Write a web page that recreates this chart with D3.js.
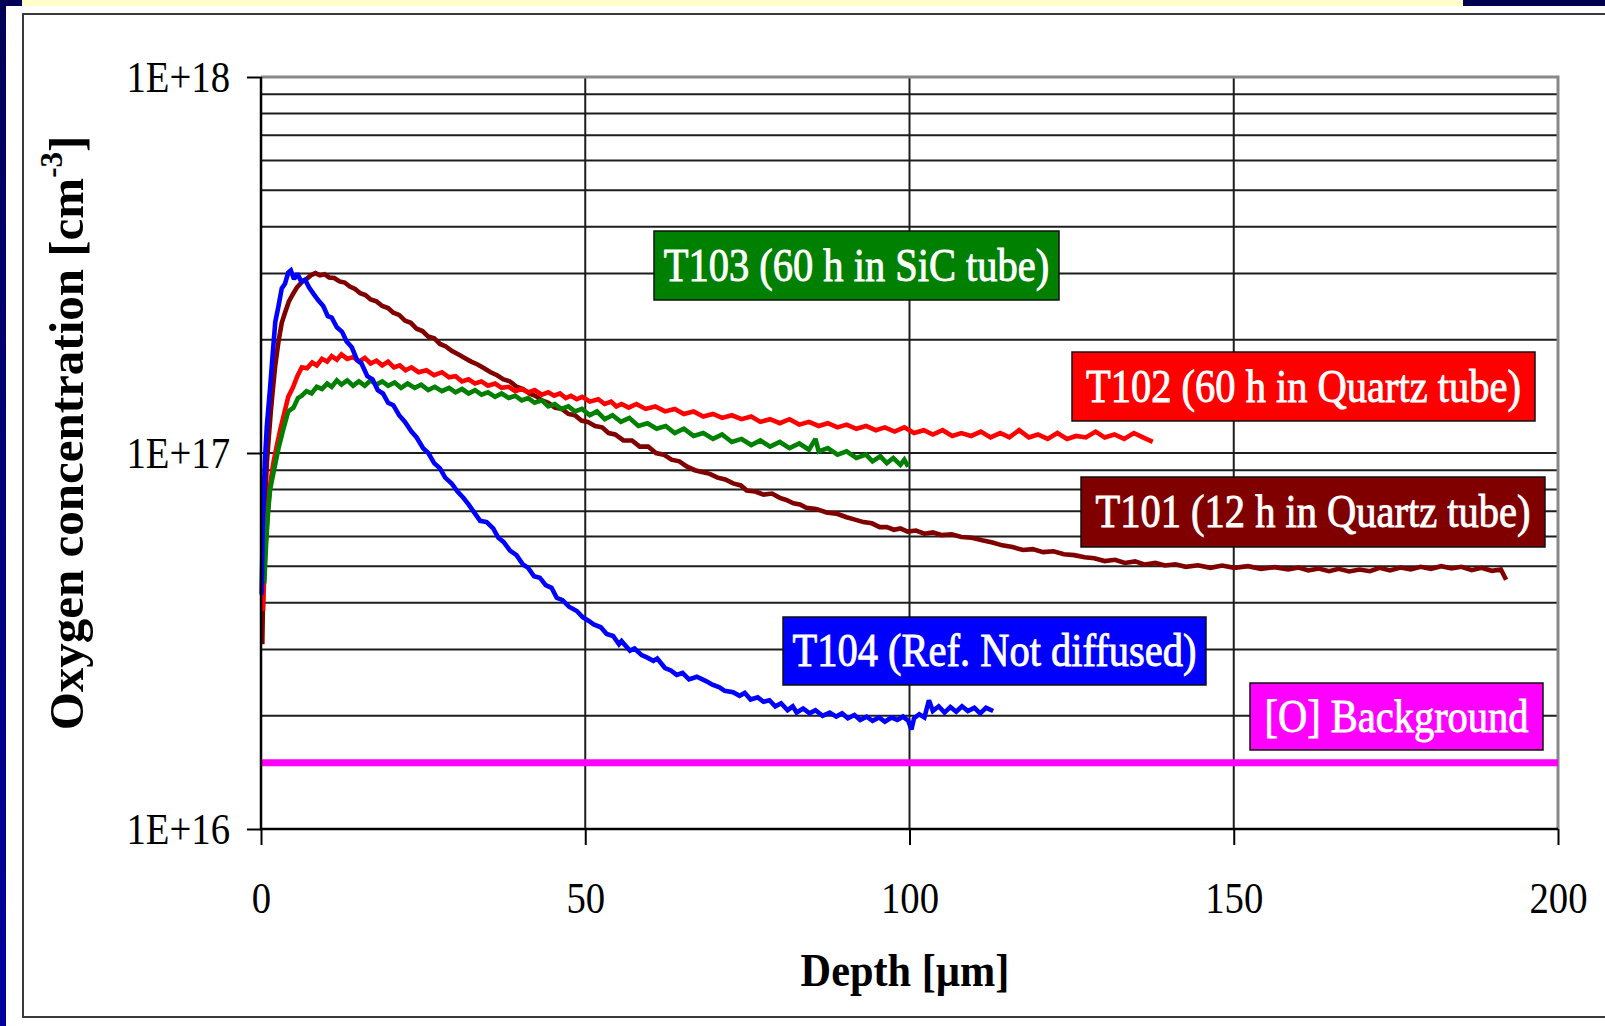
<!DOCTYPE html>
<html>
<head>
<meta charset="utf-8">
<script src="https://cdn.jsdelivr.net/npm/d3@7"></script>
<style>
  body { margin: 0; background: #fff; }
  svg { display: block; font-family: "Liberation Serif", "Times New Roman", serif; }
</style>
</head>
<body>
<svg id="chart" width="1605" height="1026"></svg>
<script>
// depth [µm], oxygen concentration [1E16 cm^-3]
const T101 = [[0.2,3.1],[0.3,4.0],[0.4,5.0],[0.6,7.2],[0.9,9.4],[1.2,11.0],[1.5,12.8],[1.8,14.6],[2.2,17.1],[2.7,19.8],[3.2,22.2],[3.7,23.6],[4.3,25.3],[4.9,26.4],[5.5,27.5],[6.3,28.5],[7.1,29.1],[7.7,29.7],[8.4,30.1],[9.1,29.7],[9.8,29.9],[10.5,29.3],[11.3,29.2],[12.1,28.6],[12.9,28.4],[13.7,27.7],[14.5,27.3],[15.3,26.6],[16.1,26.3],[16.9,25.6],[17.8,25.3],[18.7,24.6],[19.6,24.3],[20.4,23.6],[21.3,23.3],[22.2,22.5],[23.1,22.2],[24.0,21.4],[24.9,21.1],[25.8,20.4],[26.7,20.2],[27.6,19.5],[28.5,19.2],[29.4,18.7],[30.4,18.3],[31.4,17.9],[32.4,17.5],[33.4,17.2],[34.4,16.8],[35.4,16.4],[36.4,16.1],[37.4,15.7],[38.4,15.5],[39.4,15.0],[40.4,14.8],[41.4,14.4],[42.3,14.2],[43.3,13.8],[44.3,13.6],[45.3,13.2],[46.4,13.1],[47.4,12.7],[48.4,12.6],[49.4,12.2],[50.4,12.1],[51.5,11.8],[52.6,11.7],[53.6,11.3],[54.6,11.2],[55.9,10.8],[57.2,10.8],[58.4,10.4],[59.7,10.4],[60.9,10.0],[62.1,9.9],[63.3,9.6],[64.5,9.5],[65.7,9.2],[66.9,9.0],[68.0,8.9],[69.2,8.8],[70.4,8.6],[71.6,8.5],[72.8,8.3],[74.0,8.2],[74.9,7.95],[76.2,7.9],[77.5,7.75],[78.8,7.8],[80.0,7.6],[81.0,7.5],[82.1,7.35],[83.1,7.3],[84.1,7.15],[85.6,7.1],[87.2,6.95],[88.7,6.9],[90.3,6.75],[91.6,6.65],[92.9,6.55],[94.2,6.5],[95.4,6.35],[96.5,6.35],[97.6,6.25],[98.6,6.3],[99.7,6.18],[101.0,6.22],[102.3,6.1],[103.6,6.15],[104.9,6.05],[106.5,6.08],[108.0,5.98],[109.6,5.95],[111.2,5.86],[112.8,5.78],[114.3,5.68],[115.9,5.62],[117.5,5.52],[119.0,5.55],[120.6,5.45],[122.2,5.48],[123.8,5.38],[125.4,5.35],[127.0,5.28],[128.5,5.25],[130.1,5.16],[131.7,5.2],[133.2,5.1],[134.8,5.15],[136.3,5.05],[137.9,5.1],[139.4,5.02],[141.0,5.06],[142.6,4.98],[144.5,5.03],[146.4,4.95],[148.2,5.02],[150.1,4.95],[152.2,5.0],[154.2,4.92],[156.3,4.97],[158.4,4.9],[160.0,4.96],[161.5,4.87],[163.1,4.93],[164.7,4.85],[166.2,4.92],[167.8,4.84],[169.4,4.9],[171.0,4.85],[172.5,4.95],[174.1,4.87],[175.7,4.96],[177.3,4.9],[178.8,4.98],[180.4,4.92],[182.0,5.0],[183.6,4.93],[185.1,4.98],[186.7,4.88],[188.2,4.95],[189.8,4.86],[191.2,4.9],[192.0,4.6]];

const T102 = [[0.3,3.8],[0.6,5.3],[1.0,6.8],[1.4,8.2],[1.9,9.4],[2.4,10.4],[3.0,11.6],[3.6,12.8],[4.2,14.1],[4.9,14.9],[5.6,16.0],[6.3,16.9],[7.1,16.8],[7.9,17.4],[8.6,17.1],[9.4,17.8],[10.2,17.5],[10.9,18.1],[11.7,17.7],[12.4,18.3],[13.3,17.8],[14.2,18.0],[15.1,17.5],[16.0,17.9],[16.9,17.3],[17.8,17.6],[18.7,17.1],[19.6,17.5],[20.5,16.9],[21.4,17.1],[22.3,16.6],[23.2,16.9],[24.3,16.4],[25.5,16.6],[26.7,16.1],[27.9,16.4],[29.0,15.9],[30.0,16.0],[31.0,15.5],[32.0,15.7],[33.0,15.3],[34.0,15.5],[35.0,15.1],[36.1,15.3],[37.1,14.9],[38.2,15.0],[39.2,14.6],[40.2,14.8],[41.2,14.5],[42.2,14.7],[43.3,14.3],[44.3,14.5],[45.2,14.2],[46.1,14.4],[47.0,14.0],[47.8,14.2],[48.7,13.9],[49.5,14.1],[50.7,13.7],[52.0,13.9],[53.0,13.5],[54.0,13.7],[54.8,13.3],[55.6,13.5],[56.7,13.2],[57.9,13.5],[59.3,13.1],[60.8,13.3],[62.3,12.9],[63.8,13.1],[65.2,12.7],[66.7,12.9],[68.2,12.5],[69.7,12.7],[71.1,12.4],[72.6,12.6],[74.1,12.3],[75.6,12.5],[77.0,12.1],[78.5,12.3],[80.0,12.0],[81.5,12.3],[83.0,11.9],[84.5,12.1],[86.0,11.8],[87.4,12.0],[88.9,11.7],[90.3,11.9],[91.8,11.6],[93.3,11.8],[94.8,11.5],[96.2,11.7],[97.7,11.4],[99.2,11.7],[100.7,11.3],[102.2,11.5],[103.6,11.2],[105.1,11.5],[106.6,11.1],[108.0,11.3],[109.5,11.1],[111.0,11.4],[112.5,11.0],[114.0,11.3],[115.4,11.0],[116.9,11.5],[118.4,11.0],[119.8,11.2],[121.3,10.9],[122.8,11.3],[124.3,10.9],[125.7,11.1],[127.2,11.0],[128.7,11.4],[130.1,11.0],[131.6,11.2],[133.1,10.9],[134.6,11.3],[136.0,11.0],[137.5,10.7]];

const T103 = [[0.5,4.5],[0.8,5.8],[1.1,7.0],[1.4,8.0],[2.0,9.0],[2.7,10.3],[3.4,11.5],[4.2,12.9],[5.0,13.2],[5.7,14.0],[6.3,14.2],[7.0,14.6],[7.8,14.4],[8.6,15.0],[9.4,14.8],[10.2,15.3],[10.9,15.0],[11.7,15.6],[12.4,15.2],[13.3,15.6],[14.2,15.1],[15.1,15.5],[16.0,15.1],[16.9,15.6],[17.8,15.2],[18.7,15.5],[19.6,15.1],[20.6,15.4],[21.6,14.9],[22.6,15.3],[23.7,14.9],[24.7,15.2],[25.8,14.7],[26.8,15.0],[27.9,14.6],[29.0,14.9],[30.0,14.5],[31.0,14.8],[32.0,14.4],[33.0,14.7],[34.0,14.3],[35.0,14.5],[36.1,14.1],[37.1,14.4],[38.2,14.0],[39.2,14.2],[40.2,13.8],[41.2,14.0],[42.2,13.6],[43.3,13.8],[44.3,13.3],[45.3,13.5],[46.3,13.1],[47.4,13.3],[48.4,12.9],[49.5,13.1],[50.7,12.6],[51.8,12.9],[53.0,12.3],[54.2,12.6],[55.5,12.1],[56.8,12.4],[58.2,11.8],[59.6,12.0],[61.0,11.6],[62.4,11.8],[63.8,11.3],[65.2,11.6],[66.7,11.1],[68.2,11.3],[69.7,10.9],[71.1,11.2],[72.6,10.7],[74.1,10.9],[75.6,10.5],[77.0,10.8],[78.5,10.4],[80.0,10.7],[81.5,10.3],[83.0,10.6],[84.5,10.2],[85.5,10.9],[86.0,10.1],[87.4,10.3],[88.9,9.9],[90.3,10.1],[91.8,9.7],[93.3,9.9],[94.3,9.5],[95.5,9.8],[96.5,9.4],[97.5,9.7],[98.6,9.3],[99.2,9.6],[99.8,9.2]];

const T104 = [[0.1,4.2],[0.3,6.8],[0.6,9.5],[0.9,11.8],[1.4,14.9],[1.8,18.3],[2.2,22.3],[2.7,24.6],[3.2,27.4],[3.7,28.2],[4.2,30.2],[4.6,30.6],[5.1,29.0],[5.6,30.0],[6.2,28.6],[6.8,28.9],[7.4,27.6],[8.1,26.5],[8.8,25.5],[9.6,24.6],[10.3,23.1],[10.9,22.9],[11.7,21.6],[12.5,21.0],[13.2,19.8],[14.0,19.1],[14.8,17.7],[15.5,17.3],[16.4,16.0],[17.2,15.7],[18.0,14.7],[18.8,14.4],[19.6,13.6],[20.4,13.4],[21.3,12.6],[22.2,12.1],[23.2,11.4],[24.0,11.0],[25.0,10.3],[25.8,10.0],[26.7,9.4],[27.6,9.1],[28.4,8.6],[29.4,8.3],[30.3,7.9],[31.2,7.6],[32.0,7.3],[33.0,6.9],[33.8,6.6],[34.8,6.55],[35.8,6.3],[36.6,5.95],[37.4,5.8],[38.4,5.5],[39.4,5.35],[40.4,5.05],[41.2,4.95],[42.1,4.7],[43.0,4.66],[43.9,4.45],[44.8,4.38],[45.6,4.12],[46.5,4.06],[47.5,3.9],[48.7,3.8],[49.6,3.66],[50.5,3.58],[51.3,3.5],[52.4,3.44],[53.3,3.3],[54.3,3.26],[55.2,3.1],[55.6,3.16],[56.9,2.98],[57.6,3.02],[58.7,2.9],[59.5,2.86],[60.5,2.8],[61.1,2.84],[62.3,2.68],[63.2,2.64],[64.1,2.57],[65.0,2.6],[66.0,2.5],[67.2,2.54],[68.7,2.47],[69.6,2.42],[70.7,2.38],[71.5,2.33],[72.8,2.31],[73.8,2.26],[74.6,2.3],[75.5,2.21],[76.6,2.24],[77.5,2.18],[78.4,2.2],[79.3,2.12],[80.2,2.16],[81.2,2.07],[82.0,2.12],[82.6,2.04],[83.6,2.09],[84.6,2.03],[85.5,2.07],[86.6,2.0],[87.7,2.04],[88.7,1.99],[89.6,2.03],[90.5,1.97],[91.5,2.01],[92.4,1.95],[93.4,1.99],[94.3,1.94],[95.3,1.98],[96.2,1.93],[97.2,1.98],[98.1,1.95],[99.0,1.99],[99.8,1.94],[100.3,1.84],[100.7,1.97],[101.5,2.02],[102.3,1.98],[103.0,2.2],[103.6,2.06],[104.5,2.12],[105.4,2.04],[106.3,2.11],[107.2,2.05],[108.1,2.12],[109.0,2.06],[110.0,2.1],[110.9,2.03],[111.8,2.1],[112.9,2.06]];

// [O] background level, 1E16 cm^-3, over the full depth range
const BACKGROUND = [[0, 1.5], [200, 1.5]];

const X_TICKS = [0, 50, 100, 150, 200];
const Y_TICKS = [1e16, 1e17, 1e18];
const UNIT = 1e16;

const SERIES = [
  { label: 'T101 (12 h in Quartz tube)', color: '#800000', data: T101 },
  { label: 'T102 (60 h in Quartz tube)', color: '#ff0000', data: T102 },
  { label: 'T103 (60 h in SiC tube)', color: '#008000', data: T103 },
  { label: 'T104 (Ref. Not diffused)', color: '#0000ff', data: T104 },
  { label: '[O] Background', color: '#ff00ff', data: BACKGROUND }
];

const svg = d3.select('#chart');
const W = 1605;
const H = 1026;
const plot = { left: 261, right: 1558, top: 77, bottom: 829 };
const SQUEEZE = 0.88;

const x = d3.scaleLinear().domain([0, 200]).range([plot.left, plot.right]);
const y = d3.scaleLog().domain([1e16, 1e18]).range([plot.bottom, plot.top]);

// slide decoration around the chart
const navy = svg.append('defs').append('linearGradient')
  .attr('id', 'navy').attr('x1', 0).attr('x2', 0).attr('y1', 0).attr('y2', 1);
navy.append('stop').attr('offset', '0%').attr('stop-color', '#000058');
navy.append('stop').attr('offset', '100%').attr('stop-color', '#0000a0');
svg.append('rect').attr('x', 0).attr('y', 0).attr('width', W).attr('height', H).attr('fill', '#fff');
svg.append('rect').attr('x', 0).attr('y', 0).attr('width', 6).attr('height', H).attr('fill', 'url(#navy)');
svg.append('rect').attr('x', 0).attr('y', 0).attr('width', 22).attr('height', 6).attr('fill', '#000058');
svg.append('rect').attr('x', 22).attr('y', 0).attr('width', 1441).attr('height', 6).attr('fill', '#ffffcc');
svg.append('rect').attr('x', 1463).attr('y', 0).attr('width', W - 1463).attr('height', 6).attr('fill', '#000050');
svg.append('rect')
  .attr('x', 23).attr('y', 14).attr('width', W).attr('height', 1003)
  .attr('fill', 'none').attr('stroke', '#3a3a3a').attr('stroke-width', 2);

// gridlines
const grid = svg.append('g');
grid.selectAll('.hgrid').data(y.ticks().filter(d => d > 1e16 && d < 1e18))
  .join('line')
  .attr('x1', plot.left).attr('x2', plot.right)
  .attr('y1', d => y(d)).attr('y2', d => y(d))
  .attr('stroke', '#1e1e1e').attr('stroke-width', 2);
grid.selectAll('.vgrid').data(X_TICKS.filter(d => d > 0 && d < 200))
  .join('line')
  .attr('x1', d => x(d)).attr('x2', d => x(d))
  .attr('y1', plot.top).attr('y2', plot.bottom)
  .attr('stroke', '#1e1e1e').attr('stroke-width', 2);
// grey top and right border of the plot area
grid.append('path')
  .attr('d', `M${plot.left},${y(1e18)}H${x(200)}V${plot.bottom}`)
  .attr('fill', 'none').attr('stroke', '#888').attr('stroke-width', 3);

// series
const line = d3.line()
  .x(d => x(d[0]))
  .y(d => y(d[1] * UNIT));

svg.append('g').selectAll('path').data(SERIES)
  .join('path')
  .attr('d', d => line(d.data))
  .attr('fill', 'none')
  .attr('stroke', d => d.color)
  .attr('stroke-width', d => d.data === BACKGROUND ? 7 : 4.6)
  .attr('stroke-linejoin', 'miter')
  .attr('stroke-miterlimit', 2);

// axes
const yAxis = svg.append('g')
  .attr('transform', `translate(${plot.left},0)`)
  .call(d3.axisLeft(y).tickValues(Y_TICKS).tickSize(14)
    .tickFormat(d => '1E+' + Math.round(Math.log10(d))));
const xAxis = svg.append('g')
  .attr('transform', `translate(0,${plot.bottom})`)
  .call(d3.axisBottom(x).tickValues(X_TICKS).tickSize(16).tickPadding(37));

for (const axis of [yAxis, xAxis]) {
  axis.attr('font-family', null).attr('font-size', null);
  axis.select('.domain').remove();
  axis.selectAll('.tick line').attr('stroke', '#000').attr('stroke-width', 2);
  axis.selectAll('.tick text')
    .attr('font-size', 44)
    .attr('fill', '#000');
}
yAxis.selectAll('.tick text')
  .attr('x', -31 / SQUEEZE)
  .attr('transform', `scale(${SQUEEZE},1)`);
xAxis.selectAll('.tick text')
  .attr('transform', `scale(${SQUEEZE},1)`);

svg.append('path')
  .attr('d', `M${plot.left},${plot.top}V${plot.bottom}H${plot.right}`)
  .attr('fill', 'none').attr('stroke', '#000').attr('stroke-width', 2.5);

// axis titles
svg.append('text')
  .attr('transform', `translate(905,986) scale(0.92,1)`)
  .attr('text-anchor', 'middle')
  .attr('font-size', 46)
  .attr('font-weight', 'bold')
  .text('Depth [µm]');

const yTitle = svg.append('text')
  .attr('transform', 'translate(83,433) rotate(-90)')
  .attr('text-anchor', 'middle')
  .attr('font-size', 49)
  .attr('font-weight', 'bold');
yTitle.append('tspan').text('Oxygen concentration [cm');
yTitle.append('tspan').attr('font-size', 31).attr('dy', -21).text('-3');
yTitle.append('tspan').attr('dy', 21).text(']');

// label boxes for the series
const boxes = [
  { x: 654, y: 231, w: 405, h: 69 },
  { x: 1072, y: 352, w: 463, h: 69 },
  { x: 1081, y: 477, w: 464, h: 70 },
  { x: 783, y: 617, w: 423, h: 68 },
  { x: 1250, y: 683, w: 293, h: 67 }
];
const boxOrder = [2, 1, 0, 3, 4];
const labels = svg.append('g').selectAll('g')
  .data(boxOrder.map((s, i) => Object.assign({}, boxes[i], SERIES[s])))
  .join('g');
labels.append('rect')
  .attr('x', d => d.x).attr('y', d => d.y)
  .attr('width', d => d.w).attr('height', d => d.h)
  .attr('fill', d => d.color)
  .attr('stroke', '#111').attr('stroke-width', 1.5);
labels.append('text')
  .attr('transform', d => `translate(${d.x + d.w / 2},${d.y + d.h / 2 + 15}) scale(${SQUEEZE},1)`)
  .attr('text-anchor', 'middle')
  .attr('font-size', 46)
  .attr('fill', '#fff')
  .attr('stroke', '#fff').attr('stroke-width', 0.9)
  .text(d => d.label);
</script>
</body>
</html>
